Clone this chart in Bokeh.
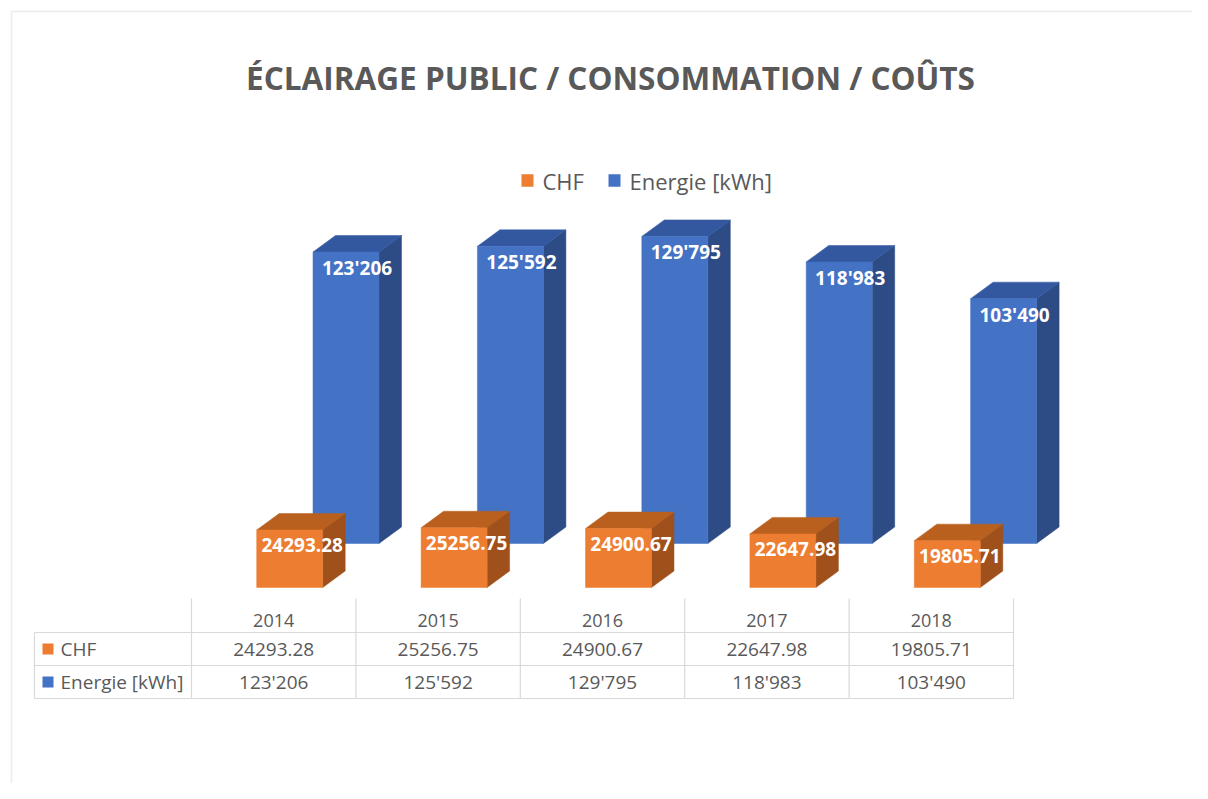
from bokeh.plotting import figure
from bokeh.models import Range1d
from bokeh.core.properties import value
from bokeh.embed import file_html
from bokeh.resources import INLINE

# ---------------- data ----------------
years = ["2014", "2015", "2016", "2017", "2018"]
chf = [24293.28, 25256.75, 24900.67, 22647.98, 19805.71]
energie = [123206, 125592, 129795, 118983, 103490]
series_names = ["CHF", "Energie [kWh]"]
title_text = "ÉCLAIRAGE PUBLIC / CONSOMMATION / COÛTS"

# ---------------- styling ----------------
ORANGE = ["#ED7D31", "#B9601F", "#A0501B"]   # front, top, side
BLUE = ["#4472C4", "#3358A0", "#2D4B84"]
TEXT = "#595959"
GRID = "#D9D9D9"
FONT = "Open Sans"

W, H = 1192, 783
ORIGIN = 0            # picture offset of the figure's top-left corner
PX_X = 164.4          # pixels per category
X0_PAGE = 273.2       # picture x of first category centre
U = 422.65            # value units per pixel
Y0_PAGE = 587.0       # picture y of the value 0 (front row)


def xd(px):
    return (px - X0_PAGE) / PX_X


def yd(py):
    return (Y0_PAGE - py) * U


def fmt_e(v):
    return f"{int(round(v)):,}".replace(",", "'")


def fmt_c(v):
    return f"{v:.2f}"


p = figure(width=W, height=H, output_backend="svg", toolbar_location=None,
           x_range=Range1d(xd(ORIGIN), xd(ORIGIN + W)),
           y_range=Range1d(yd(ORIGIN + H), yd(ORIGIN)),
           x_axis_location=None, y_axis_location=None, min_border=0)
p.grid.visible = False
p.outline_line_color = None
p.background_fill_color = "white"
p.border_fill_color = "white"

# faint chart-area border (top and left)
p.segment(x0=[xd(11), xd(11)], y0=[yd(11), yd(11)], x1=[xd(1208), xd(11)], y1=[yd(11), yd(799)],
          line_color="#EBEBEB", line_width=1.5)

# ---------------- 3D bars ----------------
HW = 33 / PX_X
DX = 22.5 / PX_X
DY = 16.5 * U


def draw_row(vals, colors, xoff, base, lab_dx, lab_dy, fmt):
    fx, fy, tx, ty, sx, sy = [], [], [], [], [], []
    lx, ly, lt = [], [], []
    for i, v in enumerate(vals):
        c = i + xoff
        xl, xr = c - HW, c + HW
        top = base + v
        fx.append([xl, xr, xr, xl]); fy.append([base, base, top, top])
        tx.append([xl, xr, xr + DX, xl + DX]); ty.append([top, top, top + DY, top + DY])
        sx.append([xr, xr + DX, xr + DX, xr]); sy.append([base, base + DY, top + DY, top])
        lx.append(c + lab_dx); ly.append(top - lab_dy); lt.append(fmt(v))
    p.patches(xs=sx, ys=sy, fill_color=colors[2], line_color=colors[2], line_width=0.5)
    p.patches(xs=tx, ys=ty, fill_color=colors[1], line_color=colors[1], line_width=0.5)
    p.patches(xs=fx, ys=fy, fill_color=colors[0], line_color=colors[0], line_width=0.5)
    p.text(x=lx, y=ly, text=lt, text_color="white", text_font=value(FONT),
           text_font_style="bold", text_font_size="19px",
           text_align="center", text_baseline="middle")


# back row (Energie) first, then front row (CHF)
draw_row(energie, BLUE, 72.3 / PX_X, 44 * U, 11 / PX_X, 16 * U, fmt_e)
draw_row(chf, ORANGE, 16 / PX_X, 0.0, 12.5 / PX_X, 15 * U, fmt_c)

# ---------------- title & legend ----------------
p.text(x=[xd(610)], y=[yd(77)], text=[title_text], text_color=TEXT,
       text_font=value(FONT), text_font_style="bold", text_font_size="31.5px",
       text_align="center", text_baseline="middle")

p.rect(x=[xd(527), xd(614)], y=[yd(180), yd(180)], width=12 / PX_X, height=12.5 * U,
       fill_color=[ORANGE[0], BLUE[0]], line_color=None)
p.text(x=[xd(542), xd(629)], y=[yd(180), yd(180)], text=series_names, text_color=TEXT,
       text_font=value(FONT), text_font_size="22px", text_align="left", text_baseline="middle")

# ---------------- data table ----------------
n = len(years)
col_edges = [i - 0.5 for i in range(n + 1)]
y_head, y_r1, y_r2 = yd(620), yd(648.5), yd(681.5)
h_lines_y = [yd(632), yd(665), yd(698)]
left = xd(34)
p.segment(x0=[left] * 3, y0=h_lines_y, x1=[col_edges[-1]] * 3, y1=h_lines_y,
          line_color=GRID, line_width=1.2)
p.segment(x0=col_edges, y0=[yd(598)] * (n + 1), x1=col_edges, y1=[yd(698)] * (n + 1),
          line_color=GRID, line_width=1.2)
p.segment(x0=[left], y0=[yd(632)], x1=[left], y1=[yd(698)], line_color=GRID, line_width=1.2)

p.text(x=list(range(n)), y=[y_head] * n, text=years, text_color=TEXT, text_font=value(FONT),
       text_font_size="18px", text_align="center", text_baseline="middle")
p.text(x=list(range(n)), y=[y_r1] * n, text=[fmt_c(v) for v in chf], text_color=TEXT,
       text_font=value(FONT), text_font_size="19px", text_align="center", text_baseline="middle")
p.text(x=list(range(n)), y=[y_r2] * n, text=[fmt_e(v) for v in energie], text_color=TEXT,
       text_font=value(FONT), text_font_size="19px", text_align="center", text_baseline="middle")

p.rect(x=[xd(47.5), xd(47.5)], y=[y_r1, y_r2], width=11 / PX_X, height=11 * U,
       fill_color=[ORANGE[0], BLUE[0]], line_color=None)
p.text(x=[xd(60), xd(60)], y=[y_r1, y_r2], text=series_names, text_color=TEXT,
       text_font=value(FONT), text_font_size="19px", text_align="left", text_baseline="middle")

open("out.html", "w").write(file_html(p, INLINE))
